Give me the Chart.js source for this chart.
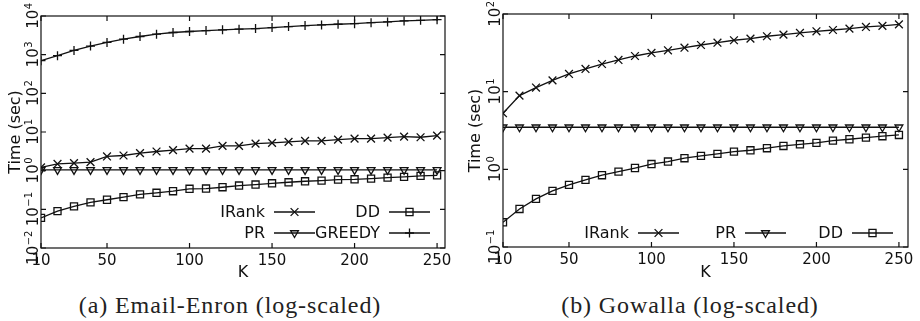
<!DOCTYPE html>
<html>
<head>
<meta charset="utf-8">
<script src="https://cdn.jsdelivr.net/npm/chart.js@4.4.0/dist/chart.umd.min.js"></script>
<style>
body { margin: 0; background: #fff; }
#wrap { position: relative; width: 920px; height: 321px; }
.panel { position: absolute; top: 0; }
.cap { position: absolute; top: 292px; width: 460px; text-align: center; font-family: "Liberation Serif", serif; font-size: 24px; letter-spacing: 0.9px; line-height: 26px; color: #222; }
</style>
</head>
<body>
<div id="wrap">
  <div class="panel" style="left:0"><canvas id="chartEnron" width="460" height="286"></canvas></div>
  <div class="panel" style="left:460px"><canvas id="chartGowalla" width="460" height="286"></canvas></div>
  <div class="cap" style="left:0">(a) Email-Enron (log-scaled)</div>
  <div class="cap" style="left:460px">(b) Gowalla (log-scaled)</div>
</div>
<script>
'use strict';

// ------------------------------------------------------- //
// Data
// ------------------------------------------------------- //
var kValues = [10, 20, 30, 40, 50, 60, 70, 80, 90, 100, 110, 120, 130, 140, 150, 160, 170, 180, 190, 200, 210, 220, 230, 240, 250];
var kTicks = [10, 50, 100, 150, 200, 250];

var enronIRank = [1.22, 1.49, 1.57, 1.67, 2.33, 2.47, 2.84, 3.13, 3.40, 3.73, 3.73, 4.38, 4.38, 5.01, 5.22, 5.54, 5.88, 5.88, 6.35, 6.73, 6.73, 7.14, 7.57, 7.31, 8.04];
var enronPR = [1.05, 1.05, 1.05, 1.05, 1.05, 1.05, 1.05, 1.05, 1.05, 1.05, 1.05, 1.05, 1.05, 1.05, 1.05, 1.05, 1.05, 1.05, 1.05, 1.05, 1.05, 1.05, 1.05, 1.05, 1.05];
var enronDD = [0.060, 0.090, 0.119, 0.151, 0.177, 0.207, 0.243, 0.268, 0.294, 0.340, 0.345, 0.373, 0.412, 0.438, 0.472, 0.501, 0.532, 0.554, 0.588, 0.598, 0.623, 0.662, 0.689, 0.731, 0.757];
var enronGreedy = [700, 940, 1290, 1670, 2070, 2520, 2950, 3390, 3740, 3970, 4210, 4380, 4550, 4730, 5010, 5320, 5650, 5870, 6110, 6350, 6740, 7010, 7450, 7750, 8050];
var enronExponents = [-2, -1, 0, 1, 2, 3, 4];

var gowallaIRank = [5.27, 8.89, 11.3, 14.0, 16.9, 19.6, 22.7, 25.6, 28.8, 31.5, 34.1, 36.8, 39.9, 42.7, 45.9, 48.1, 51.7, 54.2, 57.0, 59.9, 62.2, 64.7, 68.1, 70.2, 73.6];
var gowallaPR = [3.48, 3.48, 3.48, 3.48, 3.48, 3.48, 3.48, 3.48, 3.48, 3.48, 3.48, 3.48, 3.48, 3.48, 3.48, 3.48, 3.48, 3.48, 3.48, 3.48, 3.48, 3.48, 3.48, 3.48, 3.48];
var gowallaDD = [0.208, 0.309, 0.416, 0.527, 0.630, 0.731, 0.840, 0.933, 1.04, 1.17, 1.26, 1.39, 1.49, 1.58, 1.69, 1.76, 1.87, 2.00, 2.10, 2.19, 2.34, 2.44, 2.56, 2.67, 2.77];
var gowallaExponents = [-1, 0, 1, 2];

var SANS = '"DejaVu Sans", sans-serif';
var INK = '#111';

// marker styles, gnuplot-ish
var markers = {
    IRank:  { pointStyle: 'crossRot', radius: 5.5, rotation: 0 },
    PR:     { pointStyle: 'triangle', radius: 4.5, rotation: 180 },
    DD:     { pointStyle: 'rect', radius: 5, rotation: 0 },
    GREEDY: { pointStyle: 'cross', radius: 4.5, rotation: 0 }
};

function makeSeries(label, values){
    var m = markers[label];
    return {
        label: label,
        data: values.map(function(v, i){ return { x: kValues[i], y: v }; }),
        borderColor: INK,
        backgroundColor: 'rgba(0,0,0,0)',
        borderWidth: 1.3,
        pointStyle: m.pointStyle,
        pointRadius: m.radius,
        pointRotation: m.rotation,
        pointBorderColor: INK,
        pointBackgroundColor: 'rgba(0,0,0,0)',
        pointBorderWidth: 1.3,
        tension: 0,
        fill: false
    };
}

// ------------------------------------------------------- //
// Frame, inward ticks, rotated 10^n labels and legend
// ------------------------------------------------------- //
var gnuplotLook = {
    id: 'gnuplotLook',
    afterDraw: function(chart, args, opts){
        var ctx = chart.ctx;
        var a = chart.chartArea;
        var xs = chart.scales.x, ys = chart.scales.y;
        ctx.save();
        ctx.strokeStyle = INK;
        ctx.lineWidth = 1.2;
        ctx.strokeRect(a.left, a.top, a.right - a.left, a.bottom - a.top);

        var tl = 5;
        ctx.beginPath();
        kTicks.forEach(function(k){
            var px = xs.getPixelForValue(k);
            ctx.moveTo(px, a.bottom); ctx.lineTo(px, a.bottom - tl);
            ctx.moveTo(px, a.top); ctx.lineTo(px, a.top + tl);
        });
        opts.exponents.forEach(function(e){
            var py = ys.getPixelForValue(Math.pow(10, e));
            ctx.moveTo(a.left, py); ctx.lineTo(a.left + tl, py);
            ctx.moveTo(a.right, py); ctx.lineTo(a.right - tl, py);
        });
        ctx.stroke();

        // y labels, rotated like the original
        ctx.fillStyle = INK;
        ctx.textBaseline = 'alphabetic';
        ctx.textAlign = 'left';
        opts.exponents.forEach(function(e){
            var py = ys.getPixelForValue(Math.pow(10, e));
            var sup = String(e).replace('-', '\u2212');
            ctx.font = '15px ' + SANS;
            var w1 = ctx.measureText('10').width;
            ctx.font = '10px ' + SANS;
            var w2 = ctx.measureText(sup).width;
            ctx.save();
            ctx.translate(a.left - 3, py);
            ctx.rotate(-Math.PI / 2);
            var x0 = -(w1 + w2) / 2;
            ctx.font = '15px ' + SANS;
            ctx.fillText('10', x0, 0);
            ctx.font = '10px ' + SANS;
            ctx.fillText(sup, x0 + w1 + 0.5, -6);
            ctx.restore();
        });

        // legend: text right-aligned, then a line sample with marker
        ctx.font = '16px ' + SANS;
        ctx.textAlign = 'right';
        ctx.textBaseline = 'middle';
        opts.legend.forEach(function(item){
            var ds = chart.data.datasets[item.ds];
            ctx.fillStyle = INK;
            ctx.fillText(ds.label, item.x, item.y + 1);
            ctx.beginPath();
            ctx.lineWidth = 1.3;
            ctx.moveTo(item.x + 9, item.y);
            ctx.lineTo(item.x + 50, item.y);
            ctx.stroke();
            ctx.fillStyle = 'rgba(0,0,0,0)';
            Chart.helpers.drawPoint(ctx, {
                pointStyle: ds.pointStyle,
                radius: ds.pointRadius,
                rotation: ds.pointRotation,
                borderWidth: 1.3
            }, item.x + 29.5, item.y);
        });
        ctx.restore();
    }
};

function setChart(canvasId, datasets, yMin, yMax, exponents, box, legend){
    var ctx = document.getElementById(canvasId).getContext('2d');
    return new Chart(ctx, {
        type: 'line',
        data: { datasets: datasets },
        plugins: [gnuplotLook],
        options: {
            responsive: false,
            animation: false,
            events: [],
            layout: { padding: { top: box.top, right: box.right, left: 0, bottom: 0 } },
            plugins: {
                legend: { display: false },
                tooltip: { enabled: false },
                gnuplotLook: { exponents: exponents, legend: legend }
            },
            scales: {
                x: {
                    type: 'linear',
                    min: 10,
                    max: box.xMax,
                    afterBuildTicks: function(scale){
                        scale.ticks = kTicks.map(function(v){ return { value: v }; });
                    },
                    afterFit: function(scale){ scale.height = box.xHeight; },
                    grid: { display: false, drawTicks: false },
                    border: { display: false },
                    ticks: { color: INK, font: { family: SANS, size: 15 }, padding: 4, maxRotation: 0 },
                    title: { display: true, text: 'K', color: INK, font: { family: SANS, size: 16 }, padding: { top: 0, bottom: 4 } }
                },
                y: {
                    type: 'logarithmic',
                    min: yMin,
                    max: yMax,
                    afterFit: function(scale){ scale.width = box.yWidth; },
                    grid: { display: false, drawTicks: false },
                    border: { display: false },
                    ticks: { display: false },
                    title: { display: true, text: 'Time (sec)', color: INK, font: { family: SANS, size: 16 }, padding: { top: 6, bottom: 0 } }
                }
            }
        }
    });
}

setChart('chartEnron', [
    makeSeries('IRank', enronIRank),
    makeSeries('PR', enronPR),
    makeSeries('DD', enronDD),
    makeSeries('GREEDY', enronGreedy)
], 0.01, 10000, enronExponents,
{ top: 16, right: 15, yWidth: 41, xHeight: 38, xMax: 254.8 },
[
    { ds: 0, x: 265, y: 212 },
    { ds: 2, x: 380, y: 212 },
    { ds: 1, x: 265, y: 233 },
    { ds: 3, x: 380, y: 233 }
]);

setChart('chartGowalla', [
    makeSeries('IRank', gowallaIRank),
    makeSeries('PR', gowallaPR),
    makeSeries('DD', gowallaDD)
], 0.1, 100, gowallaExponents,
{ top: 14, right: 12, yWidth: 43, xHeight: 39, xMax: 255.5 },
[
    { ds: 0, x: 169, y: 233 },
    { ds: 1, x: 276, y: 233 },
    { ds: 2, x: 383, y: 233 }
]);
</script>
</body>
</html>
